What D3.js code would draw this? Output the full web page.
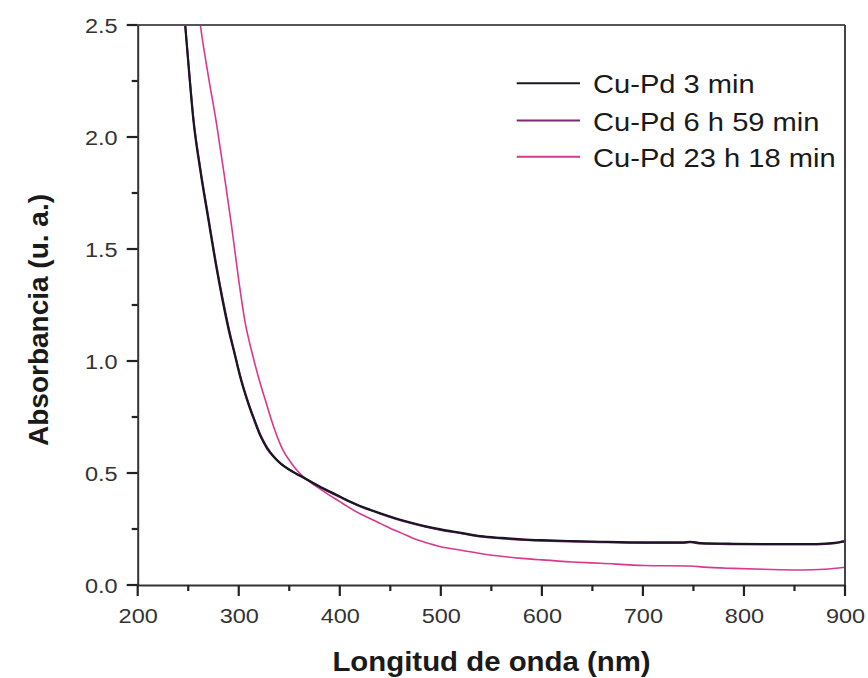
<!DOCTYPE html>
<html><head><meta charset="utf-8">
<script src="https://cdn.jsdelivr.net/npm/d3@7"></script>
<style>
html,body{margin:0;padding:0;background:#fff;}
svg{display:block;font-family:"Liberation Sans",Arial,sans-serif;}
</style></head>
<body><svg id="c" width="868" height="678"></svg>
<script>
const seriesNames = ["Cu-Pd 3 min", "Cu-Pd 6 h 59 min", "Cu-Pd 23 h 18 min"];
const seriesColors = ["#1c1624", "#7a2a78", "#d8388e"];

const wlA = [244,247,251,255,262,270,277,284,290,296,302,308,315,322,328,335,342,350,357,364,372,380,390,400,410,420,430,440,455,470,485,500,520,539,560,580,600,630,658,702,740,747,757,790,822,872,890,900];
const abs3min = [2.65,2.50,2.28,2.08,1.85,1.63,1.44,1.27,1.14,1.03,0.92,0.83,0.74,0.66,0.61,0.57,0.54,0.515,0.497,0.48,0.46,0.44,0.417,0.395,0.373,0.353,0.336,0.32,0.298,0.279,0.262,0.248,0.233,0.218,0.21,0.204,0.2,0.196,0.193,0.19,0.19,0.193,0.187,0.184,0.183,0.183,0.188,0.196];
const abs6h59 = [2.65,2.50,2.29,2.09,1.86,1.64,1.45,1.28,1.15,1.035,0.925,0.835,0.745,0.665,0.615,0.572,0.541,0.515,0.496,0.479,0.458,0.438,0.415,0.393,0.371,0.351,0.334,0.318,0.296,0.277,0.26,0.246,0.231,0.216,0.208,0.202,0.198,0.194,0.191,0.188,0.188,0.191,0.185,0.182,0.181,0.181,0.186,0.194];

const wlB = [258,262,270,278,286,293,300,306,313,320,326,335,344,352,358,364,372,380,390,400,407,420,433,440,455,466,473,485,499,520,539,560,580,600,630,658,702,747,760,789,820,855,880,900];
const abs23h18 = [2.65,2.50,2.27,2.06,1.82,1.60,1.36,1.18,1.04,0.92,0.83,0.70,0.60,0.545,0.51,0.483,0.455,0.43,0.40,0.372,0.352,0.318,0.29,0.275,0.243,0.222,0.208,0.19,0.172,0.155,0.141,0.128,0.119,0.112,0.103,0.097,0.087,0.085,0.08,0.074,0.07,0.067,0.07,0.079];

const xMajor = [200,300,400,500,600,700,800,900];
const xMinor = [250,350,450,550,650,750,850];
const yMajor = [0.0,0.5,1.0,1.5,2.0,2.5];
const yMinor = [0.25,0.75,1.25,1.75,2.25];

const L = 137.7, R = 845, T = 25, B = 585;
const svg = d3.select("#c");
const x = d3.scaleLinear().domain([200,900]).range([L,R]);
const y = d3.scaleLinear().domain([0,2.5]).range([B,T]);

svg.append("defs").append("clipPath").attr("id","clip")
  .append("rect").attr("x",L).attr("y",T).attr("width",R-L).attr("height",B-T);

const line = d3.line().x(d=>x(d[0])).y(d=>y(d[1])).curve(d3.curveMonotoneX);
const data = [
  {name:seriesNames[0], color:seriesColors[0], pts:wlA.map((w,i)=>[w,abs3min[i]]), w:2.2},
  {name:seriesNames[1], color:seriesColors[1], pts:wlA.map((w,i)=>[w,abs6h59[i]]), w:2.0},
  {name:seriesNames[2], color:seriesColors[2], pts:wlB.map((w,i)=>[w,abs23h18[i]]), w:1.6}
];
const g = svg.append("g").attr("clip-path","url(#clip)");
[data[2], data[1], data[0]].forEach(s=>{
  g.append("path").attr("d", line(s.pts)).attr("fill","none")
   .attr("stroke", s.color).attr("stroke-width", s.w).attr("stroke-linejoin","round");
});

const axCol = "#333";
svg.append("line").attr("x1",L).attr("x2",R).attr("y1",T).attr("y2",T).attr("stroke","#555").attr("stroke-width",2);
svg.append("line").attr("x1",R).attr("x2",R).attr("y1",T).attr("y2",B).attr("stroke","#444").attr("stroke-width",2);

const xa = svg.append("g").attr("transform",`translate(0,${B})`)
  .call(d3.axisBottom(x).tickValues(xMajor).tickSize(0).tickSizeOuter(0).tickFormat(d3.format("d")));
xa.selectAll("text").attr("y",0).attr("dy",0).attr("transform","translate(0,38) scale(1.12,1)")
  .attr("font-size",21).attr("fill",axCol).attr("text-anchor","middle");
const ya = svg.append("g").attr("transform",`translate(${L},0)`)
  .call(d3.axisLeft(y).tickValues(yMajor).tickSize(0).tickSizeOuter(0).tickFormat(d3.format(".1f")));
ya.selectAll("text").attr("x",0).attr("dy",0).attr("transform","translate(-20,7.5) scale(1.12,1)")
  .attr("font-size",21).attr("fill",axCol).attr("text-anchor","end");
svg.selectAll(".domain").attr("stroke",axCol).attr("stroke-width",2);

function ticks(vals, horiz, len){
  vals.forEach(v=>{
    const l = svg.append("line").attr("stroke","#222").attr("stroke-width",2.2);
    if(horiz){ l.attr("x1",x(v)).attr("x2",x(v)).attr("y1",B).attr("y2",B+len); }
    else { l.attr("y1",y(v)).attr("y2",y(v)).attr("x1",L).attr("x2",L-len); }
  });
}
ticks(xMajor,true,11); ticks(xMinor,true,6);
ticks(yMajor,false,11); ticks(yMinor,false,6);

svg.append("text").attr("transform","translate(491.5,671) scale(1.05,1)")
  .attr("text-anchor","middle").attr("font-size",28).attr("font-weight","bold").attr("fill","#1a1a1a")
  .text("Longitud de onda (nm)");
svg.append("text").attr("transform","translate(48,320) rotate(-90)")
  .attr("text-anchor","middle").attr("font-size",28).attr("font-weight","bold").attr("fill","#1a1a1a")
  .text("Absorbancia (u. a.)");

const legY = [83.3, 120.5, 156.7];
const lg = svg.append("g");
data.forEach((s,i)=>{
  lg.append("line").attr("x1",516.7).attr("x2",580).attr("y1",legY[i]).attr("y2",legY[i])
    .attr("stroke",s.color).attr("stroke-width",2);
  lg.append("text").attr("transform",`translate(593,${legY[i]+10}) scale(1.12,1)`)
    .attr("font-size",26).attr("fill","#1a1a1a").text(s.name);
});
</script></body></html>
